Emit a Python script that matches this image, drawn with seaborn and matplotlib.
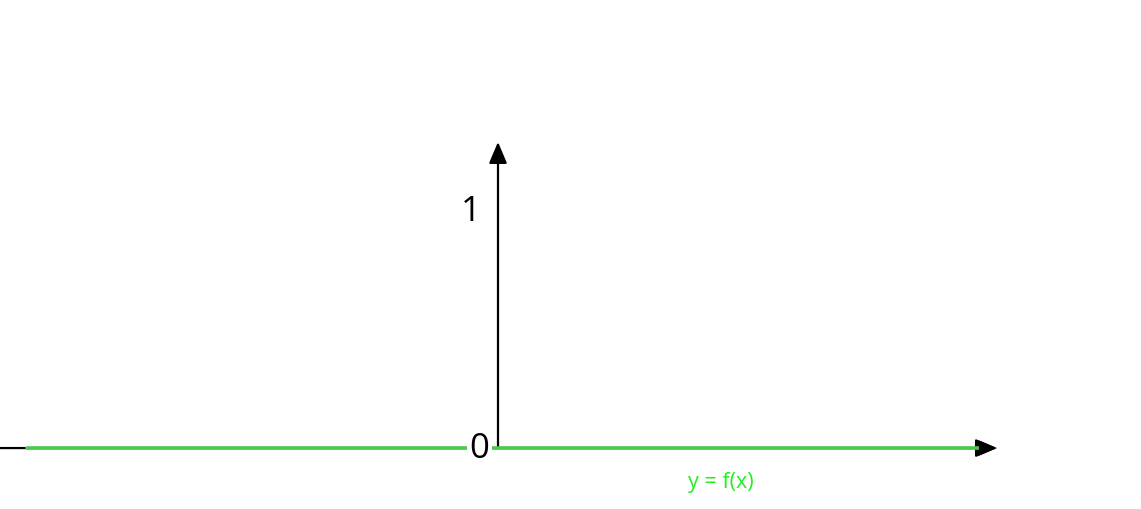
import seaborn as sns
import matplotlib.pyplot as plt
import pandas as pd

# f(x) = 0 over the plotted range
x_vals = [-4.71, 4.92]
y_vals = [0, 0]
y_ticks = [0, 1]
func_label = "y = f(x)"

df = pd.DataFrame({'x': x_vals, 'y': y_vals})

sns.set_style('white')
plt.rcParams['font.family'] = ['Open Sans', 'DejaVu Sans']

fig = plt.figure(figsize=(11.41, 5.10), dpi=100)
ax = fig.add_axes([0, 0, 1, 1])
ax.set_xlim(-4.98, 6.43)
ax.set_ylim(-0.257, 1.894)
ax.axis('off')

sns.lineplot(data=df, x='x', y='y', color='#4cc94c', linewidth=2.6, ax=ax, zorder=3)

# axes with arrows
arrow = dict(arrowstyle='-|>,head_length=1.3,head_width=0.55',
             color='black', lw=1.6, shrinkA=0, shrinkB=0)
ax.annotate('', xy=(4.99, 0), xytext=(-4.98, 0), arrowprops=arrow, zorder=2)
ax.annotate('', xy=(4.99, 0), xytext=(4.85, 0),
            arrowprops=dict(arrow, lw=0), zorder=5)
ax.annotate('', xy=(0, 1.291), xytext=(0, 0), arrowprops=arrow, zorder=2)

# tick labels
ax.text(-0.185, y_ticks[0], str(y_ticks[0]), fontsize=25, color='black',
        ha='center', va='center', zorder=4,
        bbox=dict(facecolor='white', edgecolor='none', pad=2.0))
ax.text(-0.27, y_ticks[1], str(y_ticks[1]), fontsize=25, color='black',
        ha='center', va='center')

ax.text(2.23, -0.139, func_label, fontsize=15.5, color='#22ee22', ha='center', va='center')

fig.savefig('out.png', dpi=100)
